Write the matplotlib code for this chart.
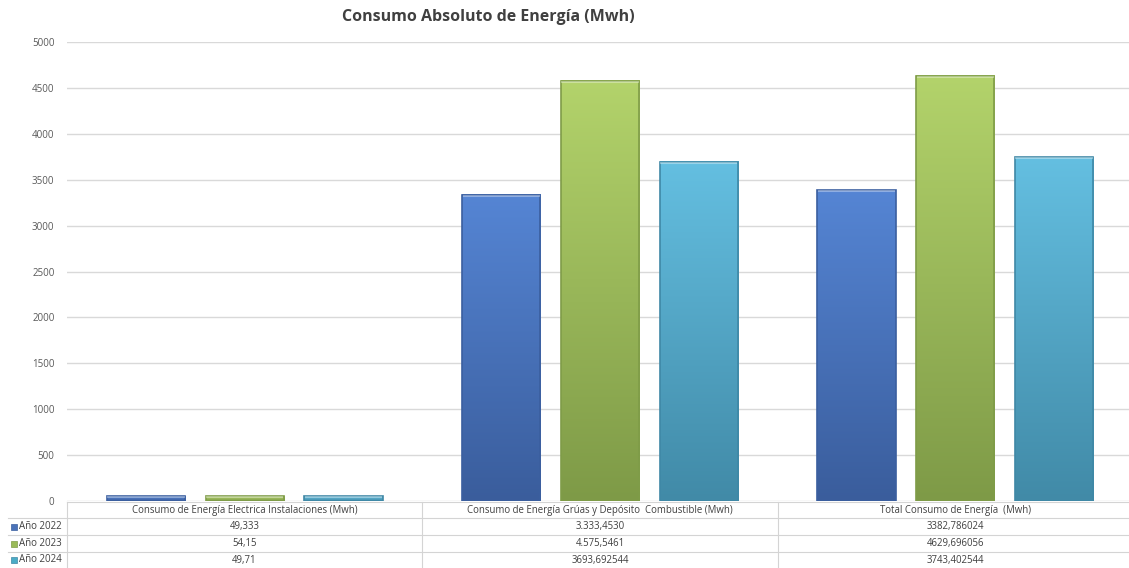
import numpy as np
import matplotlib
matplotlib.use("Agg")
import matplotlib.pyplot as plt
from matplotlib.colors import LinearSegmentedColormap

plt.rcParams['font.family'] = ['Open Sans', 'DejaVu Sans']

# datos ################################################################
categorias = ["Consumo de Energía Electrica Instalaciones (Mwh)",
              "Consumo de Energía Grúas y Depósito  Combustible (Mwh)",
              "Total Consumo de Energía  (Mwh)"]
series = ["Año 2022", "Año 2023", "Año 2024"]
v_2022 = [49.333, 3333.4530, 3382.786024]
v_2023 = [54.15, 4575.5461, 4629.696056]
v_2024 = [49.71, 3693.692544, 3743.402544]
txt_2022 = ["49,333", "3.333,4530", "3382,786024"]
txt_2023 = ["54,15", "4.575,5461", "4629,696056"]
txt_2024 = ["49,71", "3693,692544", "3743,402544"]

valores = [v_2022, v_2023, v_2024]
textos = [txt_2022, txt_2023, txt_2024]

# colores (arriba claro, abajo oscuro)
col_top = ["#5585d4", "#b3d36b", "#64bfe1"]
col_bot = ["#3a5d9c", "#7e9a47", "#418aa7"]
col_edge = ["#3b5f9f", "#7f9c48", "#3f88a6"]
col_marca = ["#4a72b8", "#9bbb59", "#4bacc6"]

W, H = 1129, 568
fig = plt.figure(figsize=(W / 100, H / 100), dpi=100)

# ejes principales (el ultimo borde de columna queda fuera de la figura)
x0, x1 = 67, 1133
y_top, y_bot = 42, 501
ax = fig.add_axes([x0 / W, (H - y_bot) / H, (x1 - x0) / W, (y_bot - y_top) / H])
ax.set_yticks(np.arange(0, 5001, 500))
ax.tick_params(axis='y', length=0, labelsize=7, labelcolor='#595959', pad=9)
ax.set_xticks([])
ax.yaxis.grid(True, color='#d9d9d9', linewidth=1)
ax.set_axisbelow(True)
for s in ax.spines.values():
    s.set_visible(False)

ancho = 0.22
paso = 0.278
grad = np.linspace(1, 0, 256).reshape(-1, 1)
for j in range(3):
    cmap = LinearSegmentedColormap.from_list("c%d" % j, [col_bot[j], col_top[j]])
    for i in range(3):
        xc = i + (j - 1) * paso
        v = valores[j][i]
        ax.imshow(grad, extent=[xc - ancho / 2, xc + ancho / 2, 0, v],
                  aspect='auto', cmap=cmap, vmin=0, vmax=1, zorder=2)
        ax.bar(xc, v, width=ancho, facecolor='none', edgecolor=col_edge[j],
               linewidth=1.2, zorder=3)
        # borde superior claro (bisel)
        ax.plot([xc - ancho / 2 + 0.004, xc + ancho / 2 - 0.004], [v - 8, v - 8],
                color='white', alpha=0.35, linewidth=1.5, zorder=4)
ax.set_xlim(-0.5, 2.5)
ax.set_ylim(0, 5000)

fig.text(488 / W, 1 - 17 / H, "Consumo Absoluto de Energía (Mwh)",
         ha='center', va='center', fontsize=11.5, fontweight='bold', color='#404040')

# tabla de datos
tab = fig.add_axes([0, 0, 1, (H - y_bot) / H])
tab.set_xlim(0, W)
tab.set_ylim(H, y_bot)
tab.axis('off')
filas = [502, 518, 535, 552, 568]
cols = [67, 422, 778, 1133]
lc = '#d4d4d4'
for y in filas[:-1]:
    xs = 67 if y == filas[0] else 8
    tab.plot([xs, W], [y, y], color=lc, linewidth=0.8)
for x in cols:
    tab.plot([x, x], [filas[0], H], color=lc, linewidth=0.8)
for i, cat in enumerate(categorias):
    tab.text((cols[i] + cols[i + 1]) / 2, (filas[0] + filas[1]) / 2, cat,
             ha='center', va='center', fontsize=6.9, color='#404040')
for j, nombre in enumerate(series):
    yc = (filas[j + 1] + filas[j + 2]) / 2
    tab.plot([14], [yc], marker='s', markersize=4.5, color=col_marca[j],
             markeredgecolor=col_edge[j], markeredgewidth=0.5)
    tab.text(19, yc, nombre, ha='left', va='center', fontsize=7, color='#404040')
    for i in range(3):
        tab.text((cols[i] + cols[i + 1]) / 2, yc, textos[j][i],
                 ha='center', va='center', fontsize=6.9, color='#404040')

fig.savefig("out.png", dpi=100)
